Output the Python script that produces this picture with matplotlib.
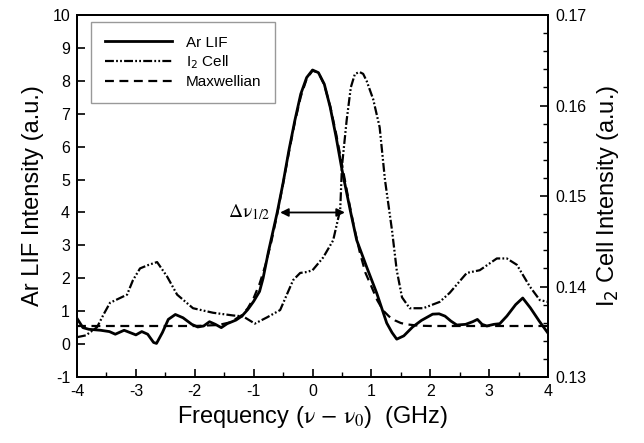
import numpy as np
import matplotlib
matplotlib.use("Agg")
import matplotlib.pyplot as plt
from matplotlib.ticker import MultipleLocator

plt.rcParams["font.family"] = ["Liberation Sans", "DejaVu Sans"]
plt.rcParams["axes.unicode_minus"] = False

# ==========================================
# 数据
# ==========================================
# Ar LIF 实测
lif_x = [-4.0, -3.9, -3.8, -3.6, -3.45, -3.35, -3.2, -3.1, -3.0, -2.9, -2.8,
         -2.7, -2.65, -2.55, -2.45, -2.33, -2.2, -2.05, -1.95, -1.85, -1.75,
         -1.65, -1.55, -1.45, -1.3, -1.2, -1.1, -1.0, -0.9, -0.84, -0.75,
         -0.65, -0.6, -0.5, -0.4, -0.3, -0.2, -0.1, 0.0, 0.1, 0.2, 0.3, 0.4,
         0.5, 0.64, 0.75, 0.92, 1.09, 1.26, 1.35, 1.43, 1.55, 1.7, 1.85, 2.04,
         2.15, 2.25, 2.35, 2.45, 2.6, 2.72, 2.8, 2.88, 2.96, 3.08, 3.18, 3.3,
         3.45, 3.57, 3.7, 3.85, 4.0]
lif_y = [0.78, 0.5, 0.45, 0.42, 0.38, 0.3, 0.42, 0.35, 0.28, 0.38, 0.3,
         0.05, 0.02, 0.35, 0.75, 0.9, 0.8, 0.6, 0.52, 0.55, 0.68,
         0.6, 0.5, 0.62, 0.73, 0.85, 1.05, 1.3, 1.6, 2.0, 2.8,
         3.6, 4.0, 4.9, 5.9, 6.8, 7.6, 8.1, 8.33, 8.25, 7.9, 7.2, 6.3,
         5.3, 4.07, 3.16, 2.34, 1.55, 0.64, 0.35, 0.15, 0.25, 0.52, 0.72, 0.91,
         0.92, 0.85, 0.7, 0.58, 0.6, 0.68, 0.75, 0.6, 0.55, 0.6, 0.62, 0.85,
         1.2, 1.4, 1.1, 0.7, 0.33]

# Maxwellian 拟合
max_x = [-4.0, -2.0, -1.6, -1.4, -1.2, -1.1, -1.0, -0.9, -0.8, -0.7, -0.6,
         -0.5, -0.4, -0.3, -0.2, -0.1, 0.0, 0.1, 0.2, 0.3, 0.4, 0.5, 0.6,
         0.7, 0.8, 0.9, 1.0, 1.1, 1.2, 1.3, 1.4, 1.5, 1.6, 1.8, 2.0, 4.0]
max_y = [0.55, 0.55, 0.58, 0.66, 0.88, 1.09, 1.40, 1.83, 2.40, 3.11, 3.95,
         4.88, 5.84, 6.75, 7.52, 8.06, 8.31, 8.25, 7.88, 7.23, 6.40, 5.46, 4.50,
         3.60, 2.81, 2.16, 1.75, 1.33, 1.02, 0.84, 0.72, 0.64, 0.60, 0.56, 0.55, 0.55]

# I2 吸收池（右轴）
i2_x = [-4.0, -3.85, -3.66, -3.55, -3.44, -3.15, -3.05, -2.93, -2.78, -2.64,
        -2.47, -2.3, -2.03, -1.69, -1.35, -1.18, -0.98, -0.77, -0.55, -0.33,
        -0.21, -0.1, 0.0, 0.18, 0.35, 0.47, 0.5, 0.58, 0.65, 0.72, 0.8, 0.86,
        0.92, 1.03, 1.14, 1.23, 1.35, 1.43, 1.52, 1.65, 1.88, 2.16, 2.33,
        2.62, 2.84, 3.13, 3.3, 3.47, 3.69, 3.86, 4.0]
i2_y = [0.1344, 0.1346, 0.1355, 0.1369, 0.1382, 0.1391, 0.1407, 0.1420, 0.1424, 0.1427,
        0.1411, 0.1391, 0.1376, 0.1371, 0.1368, 0.1367, 0.1359, 0.1366, 0.1374, 0.1407,
        0.1415, 0.1416, 0.1418, 0.1432, 0.1451, 0.1485, 0.1533, 0.1584, 0.1620, 0.1635, 0.1637, 0.1635,
        0.1627, 0.1607, 0.1576, 0.1518, 0.1462, 0.1418, 0.1388, 0.1376, 0.1376, 0.1383, 0.1393,
        0.1415, 0.1418, 0.1431, 0.1431, 0.1424, 0.1400, 0.1385, 0.1383]

# 半高宽箭头
fwhm_left = -0.55
fwhm_right = 0.55
fwhm_level = 4.0

# ==========================================
# 绘图
# ==========================================
fig = plt.figure(figsize=(6.44, 4.43), dpi=100)
ax = fig.add_axes([0.1196, 0.149, 0.7314, 0.817])
ax2 = ax.twinx()

l1, = ax.plot(lif_x, lif_y, color="black", lw=2.0, label="Ar LIF")
l3, = ax.plot(max_x, max_y, color="black", lw=1.6, linestyle=(0, (4, 2.5)),
              label="Maxwellian")
l2, = ax2.plot(i2_x, i2_y, color="black", lw=1.6,
               linestyle=(0, (4, 1, 0.8, 1, 0.8, 1)), label="I$_2$ Cell")

# 箭头和标注
ax.annotate("", xy=(fwhm_left, fwhm_level), xytext=(fwhm_right, fwhm_level),
            arrowprops=dict(arrowstyle="<|-|>", color="black", lw=1.3,
                            mutation_scale=12, shrinkA=0, shrinkB=0))
ax.text(-0.72, fwhm_level, r"$\Delta\mathrm{\nu}_{1/2}$", ha="right", va="center",
        fontsize=14, math_fontfamily="stix")

# 坐标轴
ax.set_xlim(-4, 4)
ax.set_ylim(-1, 10)
ax2.set_ylim(0.13, 0.17)
ax.xaxis.set_major_locator(MultipleLocator(1))
ax.xaxis.set_minor_locator(MultipleLocator(0.5))
ax.yaxis.set_major_locator(MultipleLocator(1))
ax2.yaxis.set_major_locator(MultipleLocator(0.01))
ax2.yaxis.set_minor_locator(MultipleLocator(0.002))

ax.tick_params(axis="both", which="major", direction="in", length=6, width=1.2,
               labelsize=11.5, pad=5, top=False, right=False)
ax.tick_params(axis="x", which="minor", direction="in", length=3.5, width=1.0)
ax2.tick_params(axis="y", which="major", direction="in", length=6, width=1.2,
                labelsize=11.5, pad=5)
ax2.tick_params(axis="y", which="minor", direction="in", length=3.5, width=1.0)
ax2.yaxis.set_major_formatter(plt.FormatStrFormatter("%.2f"))

for sp in ax.spines.values():
    sp.set_linewidth(1.4)
for sp in ax2.spines.values():
    sp.set_linewidth(1.4)

ax.set_xlabel(r"Frequency ($\mathrm{\nu}$ $-$ $\mathrm{\nu}_0$)  (GHz)", fontsize=17,
              math_fontfamily="stix", labelpad=4)
ax.set_ylabel("Ar LIF Intensity (a.u.)", fontsize=17, labelpad=6)
ax2.set_ylabel("I$_2$ Cell Intensity (a.u.)", fontsize=17, labelpad=6)

leg = ax.legend(handles=[l1, l2, l3], loc="upper left",
                bbox_to_anchor=(0.0297, 0.981), borderaxespad=0,
                fontsize=11, handlelength=4.4, handletextpad=0.9,
                labelspacing=0.25, borderpad=0.9, fancybox=False,
                edgecolor="#999999", framealpha=1)
leg.get_frame().set_linewidth(1.0)

fig.savefig("out.png", dpi=100)
